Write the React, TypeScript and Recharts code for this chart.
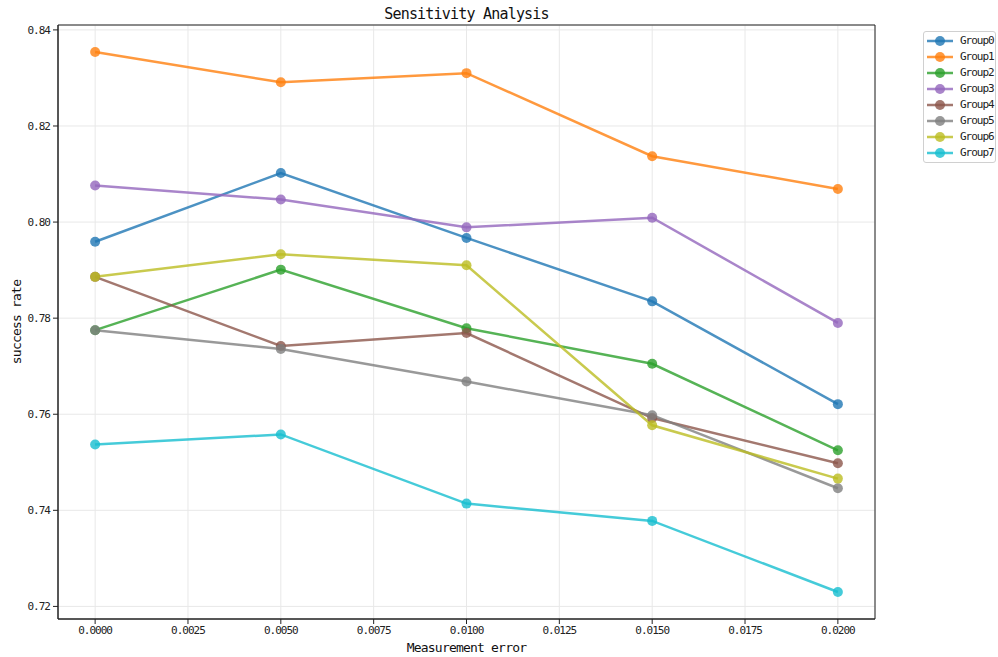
import React from "react";
import {
  LineChart,
  Line,
  XAxis,
  YAxis,
  CartesianGrid,
  Legend,
  ReferenceArea,
  Label,
} from "recharts";

const errors = [0, 0.005, 0.01, 0.015, 0.02];
const groupNames = ["Group0", "Group1", "Group2", "Group3", "Group4", "Group5", "Group6", "Group7"];
const group0 = [0.7959, 0.8102, 0.7967, 0.7835, 0.7621];
const group1 = [0.8354, 0.8291, 0.831, 0.8137, 0.8069];
const group2 = [0.7775, 0.7901, 0.7779, 0.7705, 0.7525];
const group3 = [0.8076, 0.8047, 0.7989, 0.8009, 0.779];
const group4 = [0.7886, 0.7742, 0.7769, 0.7592, 0.7498];
const group5 = [0.7775, 0.7736, 0.7668, 0.7598, 0.7446];
const group6 = [0.7886, 0.7933, 0.791, 0.7577, 0.7466];
const group7 = [0.7537, 0.7558, 0.7414, 0.7378, 0.723];
const xTicks = [0, 0.0025, 0.005, 0.0075, 0.01, 0.0125, 0.015, 0.0175, 0.02];
const yTicks = [0.72, 0.74, 0.76, 0.78, 0.8, 0.82, 0.84];
const colors = ["#1f77b4", "#ff7f0e", "#2ca02c", "#9467bd", "#8c564b", "#7f7f7f", "#bcbd22", "#17becf"];

const series = [group0, group1, group2, group3, group4, group5, group6, group7];
const data = errors.map((e, i) => {
  const row: Record<string, number> = { x: e };
  series.forEach((s, k) => {
    row[groupNames[k]] = s[i];
  });
  return row;
});

const X_DOMAIN: [number, number] = [-0.001, 0.021];
const Y_DOMAIN: [number, number] = [0.71738, 0.84102];
const FONT = "'DejaVu Sans Mono', 'Liberation Mono', monospace";

const LegendBox = () => (
  <div
    style={{
      border: "1px solid #d0d0d0",
      borderRadius: 3,
      background: "#fff",
      padding: "1px 0",
      width: 73,
      boxSizing: "border-box",
      fontFamily: FONT,
      fontSize: 11,
      letterSpacing: -1,
      color: "#222",
    }}
  >
    {groupNames.map((name, i) => (
      <div key={name} style={{ display: "flex", alignItems: "center", height: 16 }}>
        <svg width={36} height={16} style={{ display: "block" }}>
          <line x1={3} y1={8} x2={29} y2={8} stroke={colors[i]} strokeOpacity={0.8} strokeWidth={2.5} />
          <circle cx={16} cy={8} r={5} fill={colors[i]} fillOpacity={0.8} />
        </svg>
        <span style={{ lineHeight: "16px" }}>{name}</span>
      </div>
    ))}
  </div>
);

export default function App() {
  return (
    <div style={{ position: "absolute", left: 0, top: 0, width: 998, height: 657, background: "#fff" }}>
      <div
        style={{
          position: "absolute",
          left: 0,
          width: 933,
          top: 5,
          textAlign: "center",
          fontFamily: FONT,
          fontSize: 15,
          letterSpacing: -0.8,
          color: "#111",
          lineHeight: "18px",
        }}
      >
        Sensitivity Analysis
      </div>
      <LineChart
        width={998}
        height={657}
        data={data}
        margin={{ top: 25, right: 123, bottom: 0, left: 0 }}
      >
        <CartesianGrid stroke="#e8e8e8" strokeWidth={1} />
        <XAxis
          dataKey="x"
          type="number"
          domain={X_DOMAIN}
          ticks={xTicks}
          allowDataOverflow
          height={38}
          tickSize={5}
          tickMargin={2}
          stroke="#222"
          tick={{ fontSize: 11, fill: "#222", fontFamily: FONT, letterSpacing: -1 }}
          tickFormatter={(v: number) => v.toFixed(4)}
        >
          <Label
            value="Measurement error"
            position="insideBottom"
            offset={5}
            style={{ fontSize: 13, fill: "#111", fontFamily: FONT, letterSpacing: -0.8 }}
          />
        </XAxis>
        <YAxis
          type="number"
          domain={Y_DOMAIN}
          ticks={yTicks}
          allowDataOverflow
          width={58}
          tickSize={5}
          tickMargin={3}
          stroke="#222"
          tick={{ fontSize: 11, fill: "#222", fontFamily: FONT, letterSpacing: -1 }}
          tickFormatter={(v: number) => v.toFixed(2)}
        >
          <Label
            content={() => (
              <text
                x={16}
                y={322}
                transform="rotate(-90 16 322)"
                textAnchor="middle"
                dominantBaseline="central"
                style={{ fontSize: 13, fill: "#111", fontFamily: FONT, letterSpacing: -0.8 }}
              >
                success rate
              </text>
            )}
          />
        </YAxis>
        <ReferenceArea
          x1={X_DOMAIN[0]}
          x2={X_DOMAIN[1]}
          y1={Y_DOMAIN[0]}
          y2={Y_DOMAIN[1]}
          fill="none"
          fillOpacity={0}
          stroke="#222"
          strokeWidth={1}
        />
        {groupNames.map((name, i) => (
          <Line
            key={name}
            dataKey={name}
            type="linear"
            stroke={colors[i]}
            strokeOpacity={0.8}
            strokeWidth={2.5}
            dot={{ r: 5, fill: colors[i], fillOpacity: 0.8, stroke: "none" }}
            activeDot={false}
            isAnimationActive={false}
          />
        ))}
        <Legend
          layout="vertical"
          align="center"
          verticalAlign="middle"
          content={() => <LegendBox />}
          wrapperStyle={{ left: 923, top: 31, width: 73, height: "auto" }}
        />
      </LineChart>
    </div>
  );
}
